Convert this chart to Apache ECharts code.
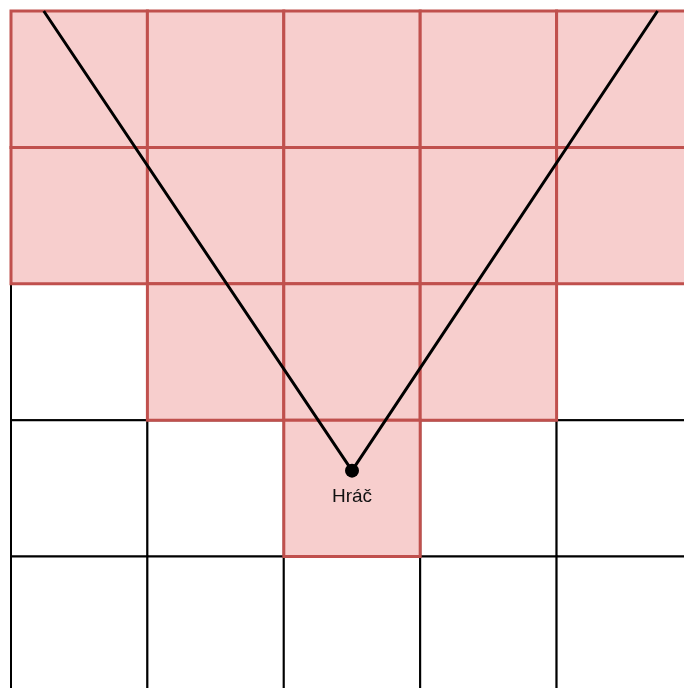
<!DOCTYPE html>
<html>
<head>
<meta charset="utf-8">
<script src="https://cdn.jsdelivr.net/npm/echarts@6/dist/echarts.min.js"></script>
<style>html,body{margin:0;padding:0;background:#fff;}#c{width:684px;height:688px;}</style>
</head>
<body>
<div id="c"></div>
<script>
// grid of 5 columns x 5 rows; highlighted (visible) cells per row
const gridCols = [0, 1, 2, 3, 4];
const gridRows = [0, 1, 2, 3, 4];
const highlightedByRow = [[0, 1, 2, 3, 4], [0, 1, 2, 3, 4], [1, 2, 3], [2], []];
const playerPos = [2.5, 3.37];
const playerLabel = 'Hráč';
const rayLeftEnd = [0.24, 0];
const rayRightEnd = [4.74, 0];

const plainCells = [];
const redCells = [];
gridRows.forEach(function (r) {
  gridCols.forEach(function (c) {
    if (highlightedByRow[r].indexOf(c) >= 0) redCells.push([c, r]);
    else plainCells.push([c, r]);
  });
});

// layout: cells are 136.4 px, the grid runs off the right and bottom edges
const CELL = 136.4, LEFT = 11, TOP = 11, W = 684, H = 688;
const xMax = (W - LEFT) / CELL;
const yMax = (H - TOP) / CELL;

function cellRenderer(fill, stroke, lw) {
  return function (params, api) {
    const p = api.coord([api.value(0), api.value(1)]);
    const s = api.size([1, 1]);
    return {
      type: 'rect',
      shape: { x: p[0], y: p[1], width: s[0], height: s[1] },
      style: { fill: fill, stroke: stroke, lineWidth: lw }
    };
  };
}

const chart = echarts.init(document.getElementById('c'), null, { renderer: 'canvas' });
chart.setOption({
  animation: false,
  backgroundColor: '#ffffff',
  grid: { left: LEFT, top: TOP, right: 0, bottom: 0, containLabel: false },
  xAxis: { type: 'value', min: 0, max: xMax, show: false },
  yAxis: { type: 'value', min: 0, max: yMax, inverse: true, show: false },
  series: [
    {
      type: 'custom', data: plainCells, encode: { x: 0, y: 1 }, z: 1, clip: false,
      renderItem: cellRenderer('#ffffff', '#000000', 2)
    },
    {
      type: 'custom', data: redCells, encode: { x: 0, y: 1 }, z: 2, clip: false,
      renderItem: cellRenderer('#f7cecd', '#c0504d', 3)
    },
    {
      type: 'line', z: 3, symbol: 'none', silent: true, clip: false,
      data: [rayLeftEnd, playerPos, rayRightEnd],
      lineStyle: { color: '#000000', width: 3 }
    },
    {
      type: 'scatter', z: 4, symbol: 'circle', symbolSize: 14,
      data: [playerPos],
      itemStyle: { color: '#000000', opacity: 1 },
      label: {
        show: true, position: 'bottom', distance: 10,
        formatter: playerLabel,
        fontFamily: 'Liberation Sans, Arial, sans-serif', fontSize: 19, color: '#111111'
      }
    }
  ]
});
</script>
</body>
</html>
